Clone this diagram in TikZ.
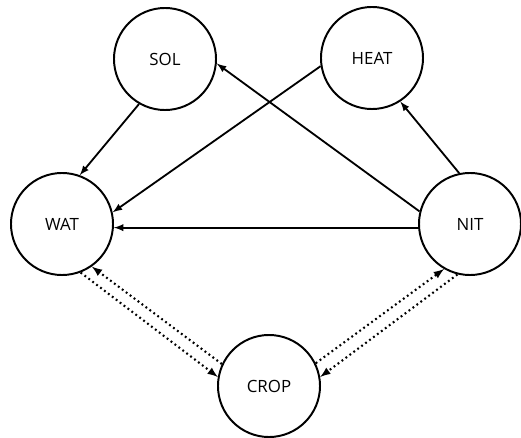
\documentclass[tikz,border=0pt]{standalone}
\usepackage{fontspec}
\setsansfont{Open Sans}
\usetikzlibrary{positioning,calc}

\begin{document}
\begin{tikzpicture}[x=0.025cm,y=0.025cm,
				every node/.style={var},
				var/.style={circle,draw,line width=1.4pt,minimum size=2.55cm,inner sep=0pt,font=\sffamily\large},
				infl/.style={-latex,line width=1.3pt},
				feedback/.style={-latex,line width=1.5pt,dash pattern=on 1.3pt off 2.2pt}]
				\useasboundingbox (0,0) rectangle (521,437);
				\node (SOL)  at (165,378) {SOL};
				\node (HEAT) at (372,379) {HEAT};
				\node (WAT)  at (62,213)  {WAT};
				\node (NIT)  at (470,213) {NIT};
				\node (CROP) at (269,51)  {CROP};
				
				\draw[infl] (SOL.240)  -- (WAT.70);
				\draw[infl] (HEAT.189) -- (WAT.13);
				\draw[infl] (NIT.166)  -- (SOL.-5);
				\draw[infl] (NIT.102)  -- (HEAT.-57);
				\draw[infl] (NIT.184)  -- (WAT.-4);
				\draw[feedback] (CROP.155) -- (WAT.-55);
				\draw[feedback] (WAT.-69)  -- (CROP.170);
				\draw[feedback] (CROP.26)  -- (NIT.240);
				\draw[feedback] (NIT.256)  -- (CROP.10);
			\end{tikzpicture}
\end{document}
